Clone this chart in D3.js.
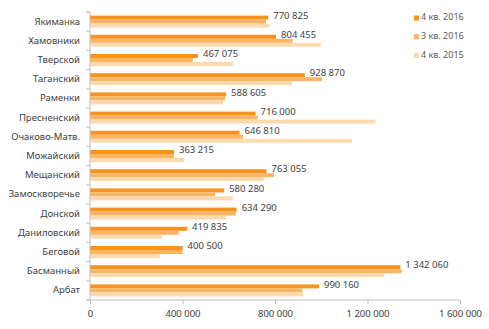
<!DOCTYPE html>
<html><head><meta charset="utf-8">
<script src="https://cdn.jsdelivr.net/npm/d3@7"></script>
<style>body{margin:0;background:#fff}svg{display:block}text{font-family:"Noto Sans",sans-serif}</style>
</head><body><svg id="c" width="489" height="329"></svg>
<script>
const categories = ["Якиманка","Хамовники","Тверской","Таганский","Раменки","Пресненский","Очаково-Матв.","Можайский","Мещанский","Замоскворечье","Донской","Даниловский","Беговой","Басманный","Арбат"];
const seriesNames = ["4 кв. 2016","3 кв. 2016","4 кв. 2015"];
const q4_2016 = [770825,804455,467075,928870,588605,716000,646810,363215,763055,580280,634290,419835,400500,1342060,990160];
const q3_2016 = [761000,876000,444000,1003000,584000,725000,662000,363000,796000,541000,631000,383000,401000,1348000,918000];
const q4_2015 = [777000,999000,618000,874000,575000,1235000,1133000,408000,751000,618000,588000,310000,301000,1273000,921000];
const xTicks = [0,400000,800000,1200000,1600000];
const colors = ["#F7921E","#FBB462","#FDDAAE"];

const svg = d3.select("#c");
const mLeft=90, mRight=460, mTop=12, mBottom=300;
const x = d3.scaleLinear().domain([0,1600000]).range([mLeft,mRight]);
const y = d3.scaleBand().domain(categories).range([mTop,mBottom]).paddingInner(0.375).paddingOuter(0.1875);
const ySub = d3.scaleBand().domain(seriesNames).range([0,y.bandwidth()]);
const fmt = v => d3.format(",")(v).replace(/,/g," ");
const series = [q4_2016,q3_2016,q4_2015];

// bars
series.forEach((vals,si)=>{
  svg.append("g").selectAll("rect").data(categories).join("rect")
    .attr("x",x(0)).attr("y",d=>y(d)+ySub(seriesNames[si]))
    .attr("width",(d,i)=>x(vals[i])-x(0)).attr("height",ySub.bandwidth())
    .attr("fill",colors[si]);
});

// value labels
svg.append("g").selectAll("text").data(categories).join("text")
  .attr("x",(d,i)=>x(q4_2016[i])+5).attr("y",(d,i)=>y(d)+ySub(seriesNames[0])+0.7)
  .attr("font-size","9.5px").attr("fill","#404040").attr("dominant-baseline","middle")
  .text((d,i)=>fmt(q4_2016[i]));

// y axis
const ya = svg.append("g").attr("transform",`translate(${mLeft},0)`)
  .call(d3.axisLeft(y).tickSize(4).tickPadding(6));
ya.select(".domain").attr("stroke","#BFBFBF").attr("d",`M-4,${mTop}H0V${mBottom}H-4`);
ya.selectAll(".tick line").remove();
const bounds = d3.range(categories.length+1).map(i=>mTop+i*(mBottom-mTop)/categories.length);
ya.selectAll(".bnd").data(bounds).join("line").attr("class","bnd")
  .attr("x1",-4).attr("x2",0).attr("y1",d=>d).attr("y2",d=>d).attr("stroke","#BFBFBF");
ya.selectAll(".tick text").attr("font-size","9.5px").attr("fill","#404040").attr("font-family","Noto Sans");

// x axis
const xa = svg.append("g").attr("transform",`translate(0,${mBottom})`)
  .call(d3.axisBottom(x).tickValues(xTicks).tickFormat(fmt).tickSize(4).tickPadding(6));
xa.select(".domain").attr("stroke","#BFBFBF").attr("d",`M${mLeft},0H${mRight}`);
xa.selectAll(".tick line").attr("stroke","#BFBFBF");
xa.selectAll(".tick text").attr("font-size","9.5px").attr("fill","#404040").attr("font-family","Noto Sans");

// legend
const lg = svg.append("g").attr("transform","translate(414,18)");
seriesNames.forEach((n,i)=>{
  const g = lg.append("g").attr("transform",`translate(0,${i*18.7})`);
  g.append("rect").attr("x",0).attr("y",-2.5).attr("width",5).attr("height",5).attr("fill",colors[i]);
  g.append("text").attr("x",7).attr("y",0).attr("dominant-baseline","middle")
    .attr("font-size","9px").attr("fill","#595959").text(n);
});
</script></body></html>
